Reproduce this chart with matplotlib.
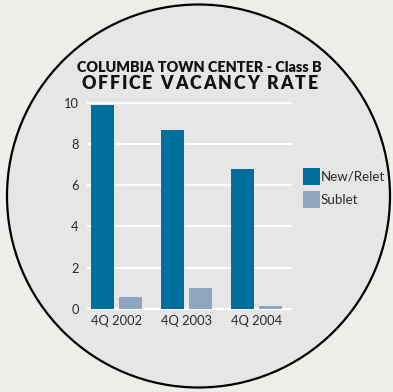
import numpy as np
import matplotlib
matplotlib.use("Agg")
import matplotlib.pyplot as plt
from matplotlib.patches import Circle, Patch

plt.rcParams['font.family'] = ['Lato', 'DejaVu Sans']

# vacancy rate (%) by quarter
quarters = ['4Q 2002', '4Q 2003', '4Q 2004']
new_relet = [9.9, 8.7, 6.8]
sublet = [0.6, 1.0, 0.15]
yticks = [0, 2, 4, 6, 8, 10]

c_new = '#006f9b'
c_sub = '#8ea7bf'
c_bg = '#e6e6e6'
c_out = '#efede9'

W, H = 393, 392
fig = plt.figure(figsize=(W / 100, H / 100), dpi=100)
fig.patch.set_facecolor(c_out)

# round panel behind the chart
bg = fig.add_axes([0, 0, 1, 1], zorder=0)
bg.set_xlim(0, W)
bg.set_ylim(H, 0)
bg.axis('off')
bg.add_patch(Circle((198.5, 196), 191.5, facecolor=c_bg, edgecolor='black', lw=1.6))

bg.text(199, 67, 'COLUMBIA TOWN CENTER - Class B', ha='center', va='center',
        fontsize=10.4, fontweight='heavy', color='#111111')


def spaced_text(ax, x0, x1, y, s, **kw):
    # lay letters out one by one so the word fills x0..x1 (pixel units)
    r = fig.canvas.get_renderer()
    widths = []
    for ch in s:
        t = ax.text(0, 0, ch, **kw)
        widths.append(t.get_window_extent(r).width if ch != ' ' else 0)
        t.remove()
    gap_w = 0.3 * max(widths)
    widths = [w if ch != ' ' else gap_w for ch, w in zip(s, widths)]
    extra = (x1 - x0 - sum(widths)) / (len(s) - 1)
    x = x0
    for ch, w in zip(s, widths):
        if ch != ' ':
            ax.text(x, y, ch, ha='left', va='center', **kw)
        x += w + extra


spaced_text(bg, 81, 318, 83, 'OFFICE VACANCY RATE',
            fontsize=12.8, fontweight='heavy', color='#111111')

# bar chart
ppu = 20.63
y0 = 309
pad = 0.1
top_px = y0 - (10 + pad) * ppu
bot_px = y0 + pad * ppu
ax = fig.add_axes([87 / W, 1 - bot_px / H, 205 / W, (bot_px - top_px) / H], zorder=1)
ax.set_facecolor('none')

x = np.arange(len(quarters))
w = 0.33
ax.bar(x - 0.2, new_relet, w, color=c_new, zorder=3, label='New/Relet')
ax.bar(x + 0.2, sublet, w, color=c_sub, zorder=3, label='Sublet')

ax.set_xlim(-0.42, 2.51)
ax.set_ylim(-pad, 10 + pad)
ax.set_yticks(yticks)
ax.set_xticks(x)
ax.set_xticklabels(quarters)
ax.yaxis.grid(True, color='white', lw=1.6, zorder=1)
ax.set_axisbelow(True)
for s in ax.spines.values():
    s.set_visible(False)
ax.tick_params(length=0, labelsize=9.3, colors='#2a2a2a', pad=6)
ax.tick_params(axis='x', pad=3)

handles = [Patch(facecolor=c_new), Patch(facecolor=c_sub)]
fig.legend(handles, ['New/Relet', 'Sublet'], loc='upper left',
           bbox_to_anchor=(303 / W, 1 - 168 / H), frameon=False,
           fontsize=9.6, handlelength=1.25, handleheight=1.6,
           handletextpad=0.1, labelspacing=0.45, borderpad=0, borderaxespad=0,
           labelcolor='#2a2a2a')

fig.savefig('out.png', dpi=100, facecolor=fig.get_facecolor())
